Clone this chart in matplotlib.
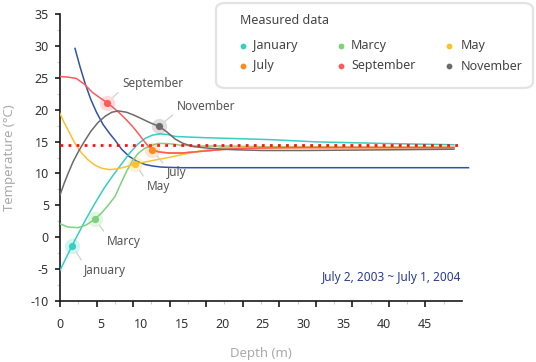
import matplotlib
matplotlib.use('Agg')
import matplotlib.pyplot as plt
from matplotlib.patches import FancyBboxPatch
from matplotlib.lines import Line2D

plt.rcParams['font.family'] = ['Noto Sans', 'DejaVu Sans']

# ---------------- data ----------------
jan_x = [0, 1.5, 3.1, 4.3, 5.5, 6.6, 7.6, 8.6, 9.6, 10.5, 11.4, 12.3, 13.3, 14.2, 16, 18, 22, 26, 31.6, 40, 48.6]
jan_y = [-5.2, -1.3, 2.6, 5.3, 7.8, 9.8, 11.5, 13.2, 14.6, 15.5, 16.0, 16.2, 16.1, 15.8, 15.7, 15.6, 15.45, 15.3, 14.95, 14.7, 14.5]

mar_x = [0, 1, 2.2, 3.2, 4.3, 5.2, 6.0, 6.8, 7.5, 8.2, 8.9, 9.6, 10.4, 11.3, 12.1, 12.9, 14, 15, 17, 20, 25, 30, 40, 48.6]
mar_y = [2.1, 1.6, 1.5, 1.9, 2.8, 3.9, 5.1, 6.4, 8.4, 10.3, 11.9, 13.1, 13.9, 14.4, 14.7, 14.7, 14.6, 14.4, 14.3, 14.3, 14.2, 14.2, 14.1, 14.1]

may_x = [0, 0.5, 1.0, 1.8, 2.6, 3.4, 4.3, 5.2, 6.1, 7.0, 8.0, 9.3, 10.5, 11.7, 13, 14.5, 16, 17.7, 19.7, 22, 25, 30, 40, 48.6]
may_y = [19.4, 18.0, 16.8, 14.8, 13.3, 12.2, 11.3, 10.8, 10.6, 10.7, 11.0, 11.5, 11.8, 12.1, 12.4, 12.8, 13.2, 13.6, 14.0, 14.1, 14.1, 14.1, 14.1, 14.1]

jul_x = [11.4, 12.3, 13.5, 15, 17.7, 20, 22, 25, 30, 40, 48.6]
jul_y = [13.6, 13.35, 13.2, 13.2, 13.5, 13.75, 13.9, 14.0, 14.05, 14.05, 14.05]

sep_x = [0, 1, 2, 3, 4, 5, 5.8, 6.6, 7.4, 8.2, 9.0, 9.7, 10.3, 10.8, 11.4, 12.3, 13.5, 15, 17.7, 20, 22, 25, 30, 40, 48.6]
sep_y = [25.2, 25.1, 24.9, 24.0, 22.7, 21.8, 21.1, 20.3, 19.4, 18.4, 17.3, 16.2, 15.2, 14.4, 13.7, 13.35, 13.2, 13.2, 13.5, 13.75, 13.9, 14.0, 14.05, 14.05, 14.05]

nov_x = [0, 0.5, 1.0, 1.6, 2.3, 3.0, 3.8, 4.7, 5.6, 6.4, 7.2, 8.2, 9.2, 10.2, 11.2, 12.2, 13.2, 14.2, 15.2, 16.5, 18, 20, 22, 25, 30, 40, 48.6]
nov_y = [6.6, 8.4, 10.0, 11.8, 13.5, 15.0, 16.6, 18.0, 19.0, 19.6, 19.8, 19.6, 19.1, 18.5, 17.9, 17.4, 16.5, 15.4, 14.7, 14.2, 14.0, 13.8, 13.7, 13.6, 13.6, 13.7, 13.8]

blue_x = [1.85, 2.5, 3.1, 3.8, 4.5, 5.3, 6.1, 6.8, 7.6, 8.5, 9.5, 10.5, 11.5, 12.5, 13.5, 15, 20, 30, 40, 50.4]
blue_y = [29.6, 26.6, 24.1, 21.6, 19.6, 17.7, 16.3, 15.2, 13.8, 12.7, 11.9, 11.4, 11.15, 11.0, 10.95, 10.9, 10.9, 10.9, 10.9, 10.9]

mean_temp = 14.5

series_names = ['January', 'Marcy', 'May', 'July', 'September', 'November']
series_colors = ['#36cfc2', '#7dd27e', '#f9c22e', '#fb8b1f', '#ff5a5a', '#6b6b6b']
series_x = [jan_x, mar_x, may_x, jul_x, sep_x, nov_x]
series_y = [jan_y, mar_y, may_y, jul_y, sep_y, nov_y]
series_z = [3.2, 3.3, 3.4, 3.0, 3.5, 3.6]

# highlighted points (x, y)
pt_x = [1.5, 4.3, 9.3, 11.4, 5.8, 12.2]
pt_y = [-1.3, 2.8, 11.5, 13.6, 21.1, 17.4]
# label offsets in points (style)
lab_off = [(8.6, -18), (8.9, -15.8), (8.1, -16.3), (10.3, -15.8), (10.8, 13.9), (12.7, 14.2)]

x_tick_labels = [0, 5, 10, 15, 20, 25, 30, 35, 40, 45]
y_tick_labels = [-10, -5, 0, 5, 10, 15, 20, 25, 30, 35]

XMAX = 49.6

# ---------------- figure ----------------
fig = plt.figure(figsize=(5.36, 3.62), dpi=100)
ax = fig.add_axes([60/536, 1-301/362, 402/536, 287/362])
ax.set_xlim(0, XMAX)
ax.set_ylim(-10, 35)

ax.plot(blue_x, blue_y, color='#3153a6', lw=1.1, zorder=2, clip_on=False)
for xs, ys, c, z in zip(series_x, series_y, series_colors, series_z):
    ax.plot(xs, ys, color=c, lw=1.1, zorder=z)

ax.axhline(mean_temp, color='#ff1010', lw=2.0, linestyle=(0, (1, 1.9)), zorder=4)

for i, name in enumerate(series_names):
    c = series_colors[i]
    ax.plot([pt_x[i]], [pt_y[i]], 'o', ms=11, color=c, alpha=0.22, mec='none', zorder=5)
    ax.plot([pt_x[i]], [pt_y[i]], 'o', ms=5.2, color=c, mec='none', zorder=6)
    dx, dy = lab_off[i]
    rel = (0.02, 0.85) if dy < 0 else (0.02, 0.15)
    ax.annotate(name, xy=(pt_x[i], pt_y[i]), xytext=(dx, dy), textcoords='offset points',
                ha='left', va='center', fontsize=8.5, color='#555555', zorder=7,
                arrowprops=dict(arrowstyle='-', color='#cccccc', lw=0.8,
                                shrinkA=1, shrinkB=5.5, relpos=rel))

# spines
for s in ['top', 'right']:
    ax.spines[s].set_visible(False)
for s in ['left', 'bottom']:
    ax.spines[s].set_color('#1a1a1a')
    ax.spines[s].set_linewidth(1.2)

# y ticks
ax.set_yticks(y_tick_labels)
ax.set_yticklabels([str(v) for v in y_tick_labels])
ax.set_yticks([v + 2.5 for v in y_tick_labels[:-1]], minor=True)
ax.tick_params(axis='y', which='major', direction='out', length=3.5, width=1.2, color='#1a1a1a',
               pad=4.5, labelsize=9, labelcolor='#333333')
ax.tick_params(axis='y', which='minor', direction='out', length=2.5, width=0.8, color='#cccccc')

# x tick marks (unlabelled) and labels via secondary axis
step = XMAX / 11
ax.set_xticks([k * step for k in range(11)])
ax.set_xticklabels([])
ax.set_xticks([(k + 0.5) * step for k in range(11)], minor=True)
ax.tick_params(axis='x', which='major', direction='out', length=4.5, width=1.2, color='#1a1a1a')
ax.tick_params(axis='x', which='minor', direction='out', length=2.5, width=0.8, color='#cccccc')

sec = ax.secondary_xaxis('bottom')
sec.set_xticks(x_tick_labels)
sec.set_xticklabels([str(v) for v in x_tick_labels])
sec.tick_params(axis='x', length=0, pad=12, labelsize=9, labelcolor='#333333')
sec.spines['bottom'].set_visible(False)

# axis titles
ax.set_ylabel('Temperature (°C)', fontsize=9.5, color='#aaaaaa')
ax.yaxis.set_label_coords((10-60)/402, 0.5)
ax.yaxis.label.set_va('center')
ax.set_xlabel('Depth (m)', fontsize=9.5, color='#aaaaaa')
ax.xaxis.set_label_coords(0.5, (301-353)/287)
ax.xaxis.label.set_va('center')

# date note
ax.text((461-60)/402, (301-277)/287, 'July 2, 2003 ~ July 1, 2004', transform=ax.transAxes,
        ha='right', va='center', fontsize=8.5, color='#2b3b8f')

# ---------------- legend (manual) ----------------
W, H = 536, 362
def fx(px): return px / W
def fy(py): return 1 - py / H

box = FancyBboxPatch((fx(216), fy(88)), fx(533) - fx(216), fy(3) - fy(88),
                     boxstyle='round,pad=0,rounding_size=0.018', transform=fig.transFigure,
                     facecolor='white', edgecolor='#e3e3e3', lw=1.6, zorder=10)
fig.add_artist(box)
fig.text(fx(240), fy(21), 'Measured data', ha='left', va='center', fontsize=9,
         fontweight='semibold', color='#444444', zorder=11)
leg_mx = [243, 341, 449]
leg_tx = [253, 351, 461]
leg_ry = [46, 66]
for i, name in enumerate(series_names):
    r, ccol = i // 3, i % 3
    fig.add_artist(Line2D([fx(leg_mx[ccol])], [fy(leg_ry[r])], marker='o', ms=4.2, lw=0,
                          color=series_colors[i], mec='none', transform=fig.transFigure, zorder=11))
    fig.text(fx(leg_tx[ccol]), fy(leg_ry[r]), name, ha='left', va='center', fontsize=9,
             color='#444444', zorder=11)

fig.savefig('out.png', dpi=100)
